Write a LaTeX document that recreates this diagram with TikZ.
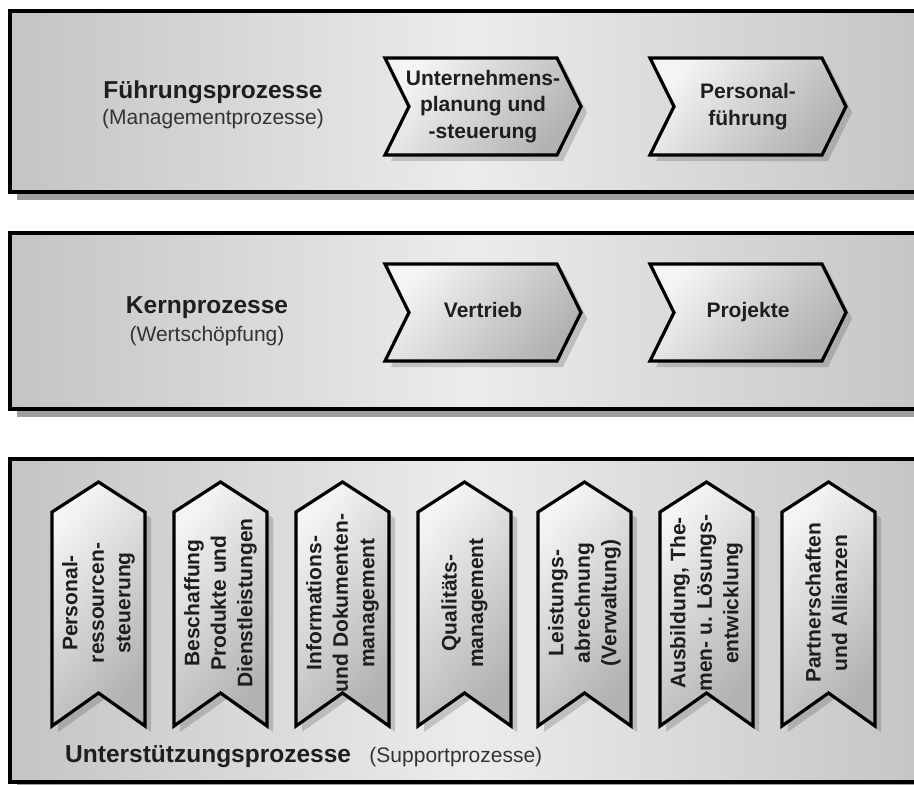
\documentclass[tikz,border=0pt]{standalone}
\usepackage{fontspec}
\setmainfont{Liberation Sans}
\usetikzlibrary{shadows,positioning}

\definecolor{bandside}{HTML}{C4C4C4}
\definecolor{bandmid}{HTML}{ECECEC}
\definecolor{chevlight}{HTML}{F4F4F4}
\definecolor{chevdark}{HTML}{B2B2B2}
\definecolor{textdark}{HTML}{1E1E1E}

\begin{document}
\begin{tikzpicture}[x=1pt, y=-1pt,
        band/.style={draw=black, line width=4pt, inner sep=0pt, outer sep=0pt, anchor=north west,
            left color=bandside, right color=bandside, middle color=bandmid,
            drop shadow={shadow xshift=7pt, shadow yshift=-8pt, fill=black!38, opacity=1}},
        chev/.style={draw=black, line width=3.2pt, line join=miter,
            top color=chevlight, bottom color=chevdark, shading angle=50,
            drop shadow={shadow xshift=6pt, shadow yshift=-6pt, fill=black, opacity=0.16}},
        bandtitle/.style={font=\bfseries\fontsize{24.5}{28}\selectfont, text=textdark, inner sep=0pt},
        bandsub/.style={font=\fontsize{21}{24}\selectfont, text=black!80, inner sep=0pt},
        chevtext/.style={font=\bfseries\fontsize{21}{26.5}\selectfont, text=textdark, align=center, inner sep=0pt}
    ]
        \clip (0,0) rectangle (914,785);
        \fill[white] (0,0) rectangle (914,785);

        % Bands
        \node [band, minimum width=925pt, minimum height=181pt] (fuehrung) at (10,11) {};
        \node [band, minimum width=925pt, minimum height=176pt] (kern) at (10,233) {};
        \node [band, minimum width=925pt, minimum height=323pt] (support) at (10,459) {};

        % Band titles
        \node [bandtitle, anchor=base] (fuehrungtitle) at (213,98) {Führungsprozesse};
        \node [bandsub, anchor=base] (fuehrungsub) at (213,124) {(Managementprozesse)};
        \node [bandtitle, anchor=base] (kerntitle) at (207,313) {Kernprozesse};
        \node [bandsub, anchor=base] (kernsub) at (207,341) {(Wertschöpfung)};
        \node [bandtitle, anchor=base west] (supporttitle) at (65,762) {Unterstützungsprozesse};
        \node [bandsub, right=18pt of supporttitle.base east, anchor=base west] (supportsub) {(Supportprozesse)};

        % Horizontal process chevrons
        \foreach \x/\y/\name/\txt in {385/58/planung/{Unternehmens-\\planung und\\-steuerung},
                650/58/personal/{Personal-\\führung},
                385/264/vertrieb/{Vertrieb},
                650/264/projekte/{Projekte}} {
            \draw [chev] (\x,\y) -- ++(172,0) -- ++(24,48.5) -- ++(-24,48.5) -- ++(-172,0) -- ++(24,-48.5) -- cycle;
            \node [chevtext] (\name) at (\x+98,\y+48.5) {\strut\txt\strut};
        }

        % Vertical support chevrons
        \foreach \x/\name/\txt in {52/ressourcen/{Personal-\\ressourcen-\\steuerung},
                174/beschaffung/{Beschaffung\\Produkte und\\Dienstleistungen},
                296/dokumente/{Informations-\\und Dokumenten-\\management},
                418/qualitaet/{Qualitäts-\\management},
                538/leistung/{Leistungs-\\abrechnung\\(Verwaltung)},
                660/ausbildung/{Ausbildung, The-\\men- u. Lösungs-\\entwicklung},
                782/partner/{Partnerschaften\\und Allianzen}} {
            \draw [chev] (\x,512) -- (\x+46.5,482) -- (\x+93,512) -- (\x+93,726) -- (\x+46.5,693) -- (\x,726) -- cycle;
            \node [chevtext, rotate=90] (\name) at (\x+46.5,603) {\strut\txt\strut};
        }
\end{tikzpicture}
\end{document}
